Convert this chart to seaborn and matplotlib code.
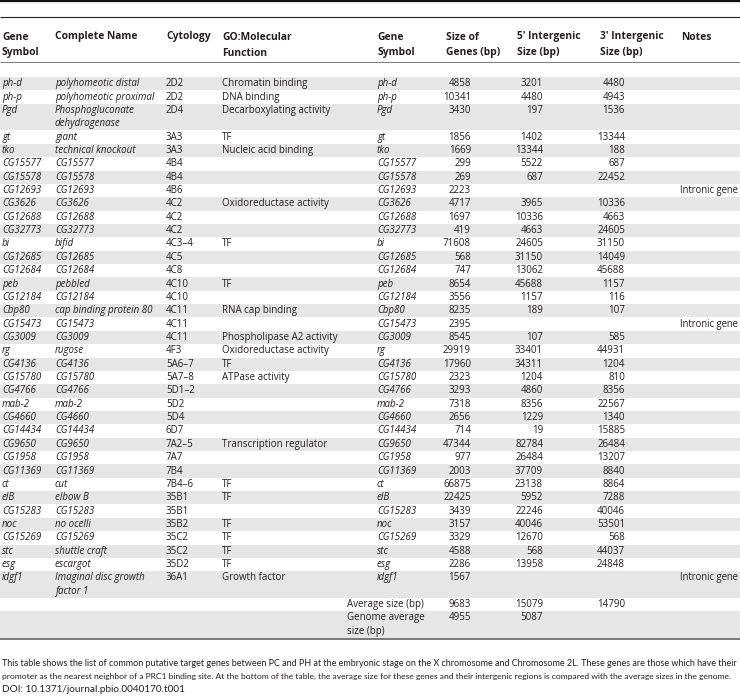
import matplotlib
matplotlib.use("Agg")
import matplotlib.pyplot as plt
import seaborn as sns
import numpy as np
import pandas as pd
from matplotlib.colors import ListedColormap

# ---------------- data ----------------
headers = ["Gene\nSymbol", "Complete Name", "Cytology", "GO:Molecular\nFunction",
           "Gene\nSymbol", "Size of\nGenes (bp)", "5\u2032 Intergenic\nSize (bp)",
           "3\u2032 Intergenic\nSize (bp)", "Notes"]

genes = ["ph-d", "ph-p", "Pgd", "gt", "tko", "CG15577", "CG15578", "CG12693", "CG3626",
         "CG12688", "CG32773", "bi", "CG12685", "CG12684", "peb", "CG12184", "Cbp80",
         "CG15473", "CG3009", "rg", "CG4136", "CG15780", "CG4766", "mab-2", "CG4660",
         "CG14434", "CG9650", "CG1958", "CG11369", "ct", "elB", "CG15283", "noc",
         "CG15269", "stc", "esg", "idgf1"]

names = ["polyhomeotic distal", "polyhomeotic proximal", "Phosphogluconate\ndehydrogenase",
         "giant", "technical knockout", "CG15577", "CG15578", "CG12693", "CG3626",
         "CG12688", "CG32773", "bifid", "CG12685", "CG12684", "pebbled", "CG12184",
         "cap binding protein 80", "CG15473", "CG3009", "rugose", "CG4136", "CG15780",
         "CG4766", "mab-2", "CG4660", "CG14434", "CG9650", "CG1958", "CG11369", "cut",
         "elbow B", "CG15283", "no ocelli", "CG15269", "shuttle craft", "escargot",
         "Imaginal disc growth\nfactor 1"]

cytology = ["2D2", "2D2", "2D4", "3A3", "3A3", "4B4", "4B4", "4B6", "4C2", "4C2", "4C2",
            "4C3\u20134", "4C5", "4C8", "4C10", "4C10", "4C11", "4C11", "4C11", "4F3",
            "5A6\u20137", "5A7\u20138", "5D1\u20132", "5D2", "5D4", "6D7", "7A2\u20135",
            "7A7", "7B4", "7B4\u20136", "35B1", "35B1", "35B2", "35C2", "35C2", "35D2",
            "36A1"]

go_function = ["Chromatin binding", "DNA binding", "Decarboxylating activity", "TF",
               "Nucleic acid binding", "", "", "", "Oxidoreductase activity", "", "", "TF",
               "", "", "TF", "", "RNA cap binding", "", "Phospholipase A2 activity",
               "Oxidoreductase activity", "TF", "ATPase activity", "", "", "", "",
               "Transcription regulator", "", "", "TF", "TF", "", "TF", "TF", "TF", "TF",
               "Growth factor"]

gene_size = [4858, 10341, 3430, 1856, 1669, 299, 269, 2223, 4717, 1697, 419, 71608, 568,
             747, 8654, 3556, 8235, 2395, 8545, 29919, 17960, 2323, 3293, 7318, 2656, 714,
             47344, 977, 2003, 66875, 22425, 3439, 3157, 3329, 4588, 2286, 1567]

intergenic_5 = [3201, 4480, 197, 1402, 13344, 5522, 687, None, 3965, 10336, 4663, 24605,
                31150, 13062, 45688, 1157, 189, None, 107, 33401, 34311, 1204, 4860, 8356,
                1229, 19, 82784, 26484, 37709, 23138, 5952, 22246, 40046, 12670, 568,
                13958, None]

intergenic_3 = [4480, 4943, 1536, 13344, 188, 687, 22452, None, 10336, 4663, 24605, 31150,
                14049, 45688, 1157, 116, 107, None, 585, 44931, 1204, 810, 8356, 22567,
                1340, 15885, 26484, 13207, 8840, 8864, 7288, 40046, 53501, 568, 44037,
                24848, None]

notes = ["Intronic gene" if g in ("CG12693", "CG15473", "idgf1") else "" for g in genes]

summary_labels = ["Average size (bp)", "Genome average\nsize (bp)"]
summary_size = [9683, 4955]
summary_5 = [15079, 5087]
summary_3 = [14790, None]

caption = [
    "This table shows the list of common putative target genes between PC and PH at the embryonic stage on the X chromosome and Chromosome 2L. These genes are those which have their",
    "promoter as the nearest neighbor of a PRC1 binding site. At the bottom of the table, the average size for these genes and their intergenic regions is compared with the average sizes in the genome.",
    "DOI: 10.1371/journal.pbio.0040170.t001",
]

# ---------------- build table ----------------
def fmt(v):
    return "" if v is None else str(v)

cols = ["c%d" % i for i in range(9)]
rows = []
for i in range(len(genes)):
    rows.append([genes[i], names[i], cytology[i], go_function[i], genes[i],
                 fmt(gene_size[i]), fmt(intergenic_5[i]), fmt(intergenic_3[i]), notes[i]])
for j in range(len(summary_labels)):
    rows.append(["", "", "", "", summary_labels[j], fmt(summary_size[j]),
                 fmt(summary_5[j]), fmt(summary_3[j]), ""])
table = pd.DataFrame(rows, columns=cols)
n_gene_rows = len(genes)

nlines = [max(len(str(c).split("\n")) for c in r) for r in rows]
stripe = []
for r, n in enumerate(nlines):
    stripe += [1 if r % 2 == 0 else 0] * n
stripe = np.array(stripe).reshape(-1, 1)

# ---------------- figure ----------------
sns.set_theme(style="white")
plt.rcParams['font.family'] = ['Open Sans', 'DejaVu Sans']

W, H = 740, 698
fig = plt.figure(figsize=(W / 100, H / 100), dpi=100)
fig.patch.set_facecolor("white")

BODY_TOP, BODY_BOT = 77.0, 638.0
LH = (BODY_BOT - BODY_TOP) / stripe.shape[0]

bg = fig.add_axes([0, 1 - BODY_BOT / H, 1, (BODY_BOT - BODY_TOP) / H])
sns.heatmap(stripe, cmap=ListedColormap(["white", "#e6e6e6"]), vmin=0, vmax=1,
            cbar=False, xticklabels=False, yticklabels=False, linewidths=0, ax=bg)
bg.set_axis_off()

ax = fig.add_axes([0, 0, 1, 1])
ax.set_xlim(0, W)
ax.set_ylim(H, 0)
ax.set_axis_off()
ax.patch.set_alpha(0)

TXT = "#231f20"
FS = 7.0

col_x = [2, 55, 166, 222, 377, 471, 543, 625, 680]
col_ha = ["left", "left", "left", "left", "left", "right", "right", "right", "left"]
head_x = [2, 55, 166, 222, 377, 446, 517, 600, 681]
italic_cols = {0, 1, 4}
SUMMARY_X = 347

# rules
ax.plot([0, W], [1, 1], color="#111111", lw=1.6, solid_capstyle="butt")
ax.plot([0, W], [17, 17], color="#222222", lw=0.8, solid_capstyle="butt")
ax.plot([0, W], [62, 62], color="#444444", lw=0.5, solid_capstyle="butt")
ax.plot([0, W], [639, 639], color="#555555", lw=1.1, solid_capstyle="butt")

# headers
for k, h in enumerate(headers):
    for li, part in enumerate(h.split("\n")):
        ax.text(head_x[k], 37 + li * 16, part, ha="left", va="center",
                fontsize=7.4, fontweight="bold", color=TXT)

# body
line_idx = 0
for r, row in enumerate(rows):
    for k, cell in enumerate(row):
        if not cell:
            continue
        is_gene_row = r < n_gene_rows
        style = "italic" if (k in italic_cols and is_gene_row) else "normal"
        x = col_x[k]
        if k == 4 and not is_gene_row:
            x = SUMMARY_X
        fs = 6.85 if k == 8 else FS
        for li, part in enumerate(cell.split("\n")):
            y = BODY_TOP + (line_idx + li + 0.5) * LH
            ax.text(x, y, part, ha=col_ha[k], va="center", fontsize=fs,
                    fontstyle=style, color=TXT)
    line_idx += nlines[r]

# caption (first two lines justified to the full width, narrower face)
renderer = fig.canvas.get_renderer()
cap_y = [663, 676, 689]
for i, line in enumerate(caption):
    t = ax.text(2, cap_y[i], line, ha="left", va="center", fontsize=7.2, color=TXT,
                family=["Lato", "DejaVu Sans"])
    if i < 2:
        for _ in range(3):
            w = t.get_window_extent(renderer=renderer).width
            t.set_fontsize(t.get_fontsize() * 729.0 / w)

fig.savefig("out.png", dpi=100, facecolor="white")
